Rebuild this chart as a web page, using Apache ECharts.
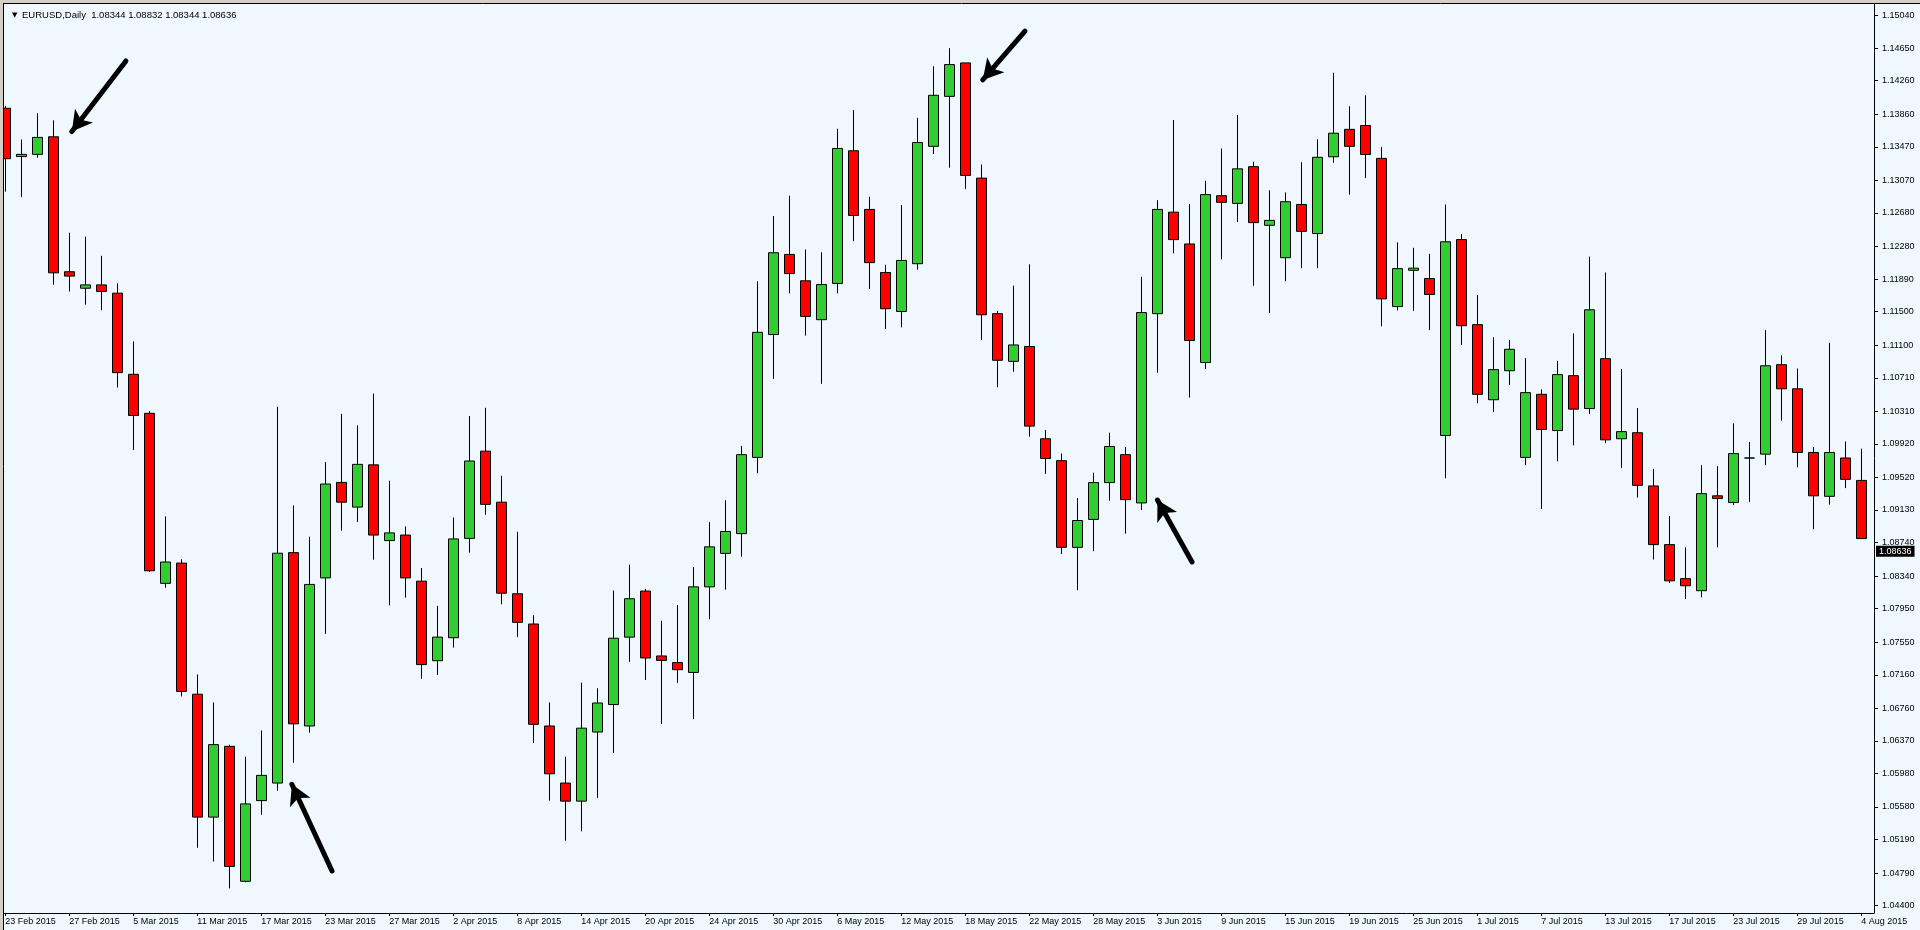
<!DOCTYPE html>
<html>
<head>
<meta charset="utf-8">
<script src="https://cdn.jsdelivr.net/npm/echarts/dist/echarts.min.js"></script>
<style>
  html, body { margin: 0; padding: 0; background: #F0F8FF; }
  #chart { width: 1920px; height: 930px; }
</style>
</head>
<body>
<div id="chart"></div>
<script>
// ---- data ----
const symbolTitle = 'EURUSD,Daily';
const titleQuote = ['1.08344', '1.08832', '1.08344', '1.08636'];
const currentPrice = 1.08636;

const dateLabels = ['23 Feb 2015','27 Feb 2015','5 Mar 2015','11 Mar 2015','17 Mar 2015','23 Mar 2015',
  '27 Mar 2015','2 Apr 2015','8 Apr 2015','14 Apr 2015','20 Apr 2015','24 Apr 2015','30 Apr 2015',
  '6 May 2015','12 May 2015','18 May 2015','22 May 2015','28 May 2015','3 Jun 2015','9 Jun 2015',
  '15 Jun 2015','19 Jun 2015','25 Jun 2015','1 Jul 2015','7 Jul 2015','13 Jul 2015','17 Jul 2015',
  '23 Jul 2015','29 Jul 2015','4 Aug 2015'];
const barsPerDateLabel = 4;

const priceTicks = [1.04400,1.04790,1.05190,1.05580,1.05980,1.06370,1.06760,1.07160,1.07550,1.07950,
  1.08340,1.08740,1.09130,1.09520,1.09920,1.10310,1.10710,1.11100,1.11500,1.11890,1.12280,1.12680,
  1.13070,1.13470,1.13860,1.14260,1.14650,1.15040];

const opens = [
  1.13931,1.13354,1.13380,1.13590,1.11977,1.11780,1.11820,1.11721,1.10751,1.10285,
  1.08253,1.08495,1.06928,1.05459,1.06305,1.04692,1.05656,1.05866,1.08620,1.06548,
  1.08318,1.09459,1.09164,1.09669,1.08764,1.08830,1.08279,1.07328,1.07603,1.08790,
  1.09833,1.09223,1.08128,1.07767,1.06548,1.05866,1.05650,1.06476,1.06804,1.07610,
  1.08161,1.07385,1.07306,1.07188,1.08211,1.08611,1.08847,1.09758,1.11227,1.12184,
  1.11869,1.11404,1.11837,1.13423,1.12722,1.11968,1.11502,1.12073,1.13476,1.14073,
  1.14473,1.13096,1.11476,1.10906,1.11083,1.09981,1.09719,1.08683,1.09017,1.09457,
  1.09791,1.09214,1.11476,1.12689,1.12309,1.10892,1.12886,1.12794,1.13233,1.12532,
  1.12145,1.12781,1.12433,1.13351,1.13679,1.13725,1.13332,1.11561,1.11994,1.11896,
  1.10020,1.12361,1.11345,1.10447,1.10794,1.09758,1.10512,1.10079,1.10735,1.10342,
  1.10938,1.09981,1.10053,1.09417,1.08716,1.08309,1.08165,1.09299,1.09220,1.09751,
  1.09797,1.10866,1.10578,1.09817,1.09293,1.09751,1.09483];
const closes = [
  1.13328,1.13380,1.13583,1.11964,1.11925,1.11820,1.11741,1.10771,1.10259,1.08403,
  1.08508,1.06961,1.05459,1.06325,1.04869,1.05617,1.05958,1.08613,1.06574,1.08240,
  1.09440,1.09223,1.09675,1.08830,1.08856,1.08318,1.07282,1.07610,1.08784,1.09715,
  1.09197,1.08135,1.07787,1.06568,1.05977,1.05650,1.06522,1.06823,1.07597,1.08069,
  1.07361,1.07332,1.07221,1.08211,1.08689,1.08873,1.09791,1.11253,1.12204,1.11955,
  1.11443,1.11824,1.13450,1.12650,1.12086,1.11535,1.12112,1.13522,1.14086,1.14453,
  1.13128,1.11463,1.10919,1.11102,1.10132,1.09745,1.08683,1.09004,1.09457,1.09889,
  1.09253,1.11489,1.12722,1.12361,1.11155,1.12899,1.12807,1.13207,1.12564,1.12591,
  1.12814,1.12460,1.13345,1.13633,1.13476,1.13378,1.11653,1.12014,1.12020,1.11705,
  1.12335,1.11332,1.10512,1.10807,1.11050,1.10532,1.10092,1.10748,1.10335,1.11522,
  1.09968,1.10066,1.09424,1.08716,1.08283,1.08224,1.09325,1.09266,1.09804,1.09751,
  1.10853,1.10578,1.09817,1.09299,1.09817,1.09496,1.08788];
const lows = [
  1.12934,1.12869,1.13341,1.11820,1.11741,1.11584,1.11518,1.10593,1.09846,1.08390,
  1.08200,1.06902,1.05092,1.04928,1.04607,1.04680,1.05486,1.05774,1.06108,1.06469,
  1.07649,1.08882,1.08987,1.08535,1.07990,1.08082,1.07112,1.07158,1.07485,1.08620,
  1.09072,1.08003,1.07610,1.06345,1.05656,1.05177,1.05289,1.05689,1.06226,1.07315,
  1.07098,1.06571,1.07063,1.06630,1.07824,1.08178,1.08571,1.09568,1.10696,1.11719,
  1.11214,1.10637,1.11719,1.12342,1.11771,1.11292,1.11312,1.12001,1.13384,1.13220,
  1.12964,1.11161,1.10597,1.10781,1.10007,1.09561,1.08604,1.08171,1.08637,1.09240,
  1.08847,1.09129,1.10768,1.12197,1.10473,1.10814,1.12125,1.12571,1.11810,1.11483,
  1.11863,1.12020,1.12020,1.13279,1.12899,1.13096,1.11325,1.11515,1.11509,1.11279,
  1.09509,1.11102,1.10407,1.10302,1.10624,1.09666,1.09142,1.09712,1.09902,1.10276,
  1.09929,1.09633,1.09279,1.08538,1.08257,1.08066,1.08086,1.08683,1.09188,1.09227,
  1.09666,1.10197,1.09640,1.08899,1.09194,1.09391,1.08788];
const highs = [
  1.13960,1.13557,1.13872,1.13787,1.12443,1.12397,1.12167,1.11839,1.11144,1.10312,
  1.09053,1.08541,1.07164,1.06830,1.06325,1.06181,1.06495,1.10364,1.09184,1.08810,
  1.09702,1.10279,1.10141,1.10521,1.09479,1.08934,1.08436,1.07984,1.09039,1.10253,
  1.10351,1.09538,1.08869,1.07872,1.06830,1.06181,1.07066,1.07000,1.08167,1.08476,
  1.08187,1.07804,1.07994,1.08447,1.08984,1.09247,1.09896,1.11863,1.12643,1.12886,
  1.12243,1.12210,1.13686,1.13909,1.12873,1.12060,1.12774,1.13817,1.14433,1.14650,
  1.14473,1.13259,1.11509,1.11810,1.12066,1.10086,1.09804,1.09273,1.09575,1.10053,
  1.09883,1.11915,1.12833,1.13791,1.12787,1.13063,1.13450,1.13850,1.13292,1.12951,
  1.12925,1.13286,1.13561,1.14355,1.13955,1.14086,1.13469,1.12328,1.12263,1.12191,
  1.12781,1.12427,1.11699,1.11194,1.11161,1.10945,1.10571,1.10912,1.11240,1.12158,
  1.11968,1.10814,1.10348,1.09620,1.09057,1.08683,1.09666,1.09653,1.10165,1.09942,
  1.11279,1.10978,1.10820,1.09883,1.11128,1.09948,1.09863];

// annotation arrows: [barIndex, price] tail -> head
const arrowTails = [[7.54, 1.14496], [20.42, 1.04815], [63.73, 1.14854], [74.17, 1.08508]];
const arrowHeads = [[4.16, 1.13652], [17.91, 1.05851], [61.09, 1.14270], [72.01, 1.09249]];

// ---- chart ----
const candleData = opens.map((o, i) => [i, o, closes[i], lows[i], highs[i]]);
const labelIdx = dateLabels.map((_, k) => k * barsPerDateLabel);

const FONT = 'Liberation Sans';
const chart = echarts.init(document.getElementById('chart'), null, { renderer: 'canvas' });

chart.setOption({
  animation: false,
  backgroundColor: '#F0F8FF',
  title: {
    left: 7, top: 5,
    text: '{t|▼} ' + symbolTitle + '  ' + titleQuote.join(' '),
    textStyle: {
      fontFamily: FONT, fontSize: 9.5, fontWeight: 'normal', color: '#000',
      rich: { t: { fontSize: 7, fontFamily: 'DejaVu Sans', color: '#000', padding: [0, 2, 0, 0] } }
    }
  },
  grid: { left: 4, right: 46, top: 4, bottom: 17 },
  xAxis: {
    type: 'value',
    min: -0.08125,
    max: 116.79375,
    splitLine: { show: false },
    axisLine: { show: true, onZero: false, lineStyle: { color: '#000', width: 1 } },
    axisTick: { show: true, customValues: labelIdx, length: 3, lineStyle: { color: '#000' } },
    axisLabel: {
      show: true, customValues: labelIdx, margin: 4,
      align: 'left', fontFamily: FONT, fontSize: 9, color: '#000',
      formatter: v => dateLabels[Math.round(v / barsPerDateLabel)]
    }
  },
  yAxis: {
    type: 'value',
    position: 'right',
    min: 1.04313,
    max: 1.15177,
    splitLine: { show: false },
    axisLine: { show: true, onZero: false, lineStyle: { color: '#000', width: 1 } },
    axisTick: { show: true, customValues: priceTicks, length: 4, lineStyle: { color: '#000' } },
    axisLabel: {
      show: true, customValues: priceTicks, margin: 8,
      fontFamily: FONT, fontSize: 9, color: '#000',
      formatter: v => v.toFixed(5)
    }
  },
  graphic: [
    { type: 'rect', silent: true, shape: { x: 0, y: 0, width: 1920, height: 3 }, style: { fill: '#D4D0C8' }, z: 100 },
    { type: 'rect', silent: true, shape: { x: 0, y: 0, width: 3, height: 930 }, style: { fill: '#D4D0C8' }, z: 100 },
    { type: 'line', silent: true, shape: { x1: 3, y1: 3.5, x2: 1920, y2: 3.5 }, style: { stroke: '#000', lineWidth: 1 }, z: 100 },
    { type: 'line', silent: true, shape: { x1: 3.5, y1: 3, x2: 3.5, y2: 930 }, style: { stroke: '#000', lineWidth: 1 }, z: 100 }
  ],
  series: [
    {
      type: 'candlestick',
      data: candleData,
      barWidth: 10,
      clip: true,
      silent: true,
      itemStyle: {
        color: '#32CD32', color0: '#FF0000',
        borderColor: '#000', borderColor0: '#000', borderColorDoji: '#000',
        borderWidth: 1
      },
      emphasis: { disabled: true }
    },
    {
      type: 'line',
      data: [],
      clip: false,
      silent: true,
      markLine: {
        silent: true,
        animation: false,
        precision: 5,
        symbol: ['none', 'arrow'],
        symbolSize: [17, 20],
        label: { show: false },
        lineStyle: { color: '#000', width: 5, type: 'solid', cap: 'round' },
        emphasis: { disabled: true },
        data: arrowTails.map((t, i) => [{ coord: t }, { coord: arrowHeads[i] }])
      }
    },
    {
      type: 'line',
      data: [],
      clip: false,
      silent: true,
      markLine: {
        silent: true,
        animation: false,
        precision: 5,
        symbol: ['none', 'none'],
        lineStyle: { color: 'rgba(0,0,0,0)', width: 0, opacity: 1 },
        emphasis: { disabled: true },
        label: {
          show: true, position: 'end', distance: 2,
          formatter: () => currentPrice.toFixed(5),
          color: '#fff', backgroundColor: '#000',
          fontFamily: FONT, fontSize: 9, padding: [1, 3, 1, 3]
        },
        data: [{ yAxis: currentPrice }]
      }
    }
  ]
});
</script>
</body>
</html>
